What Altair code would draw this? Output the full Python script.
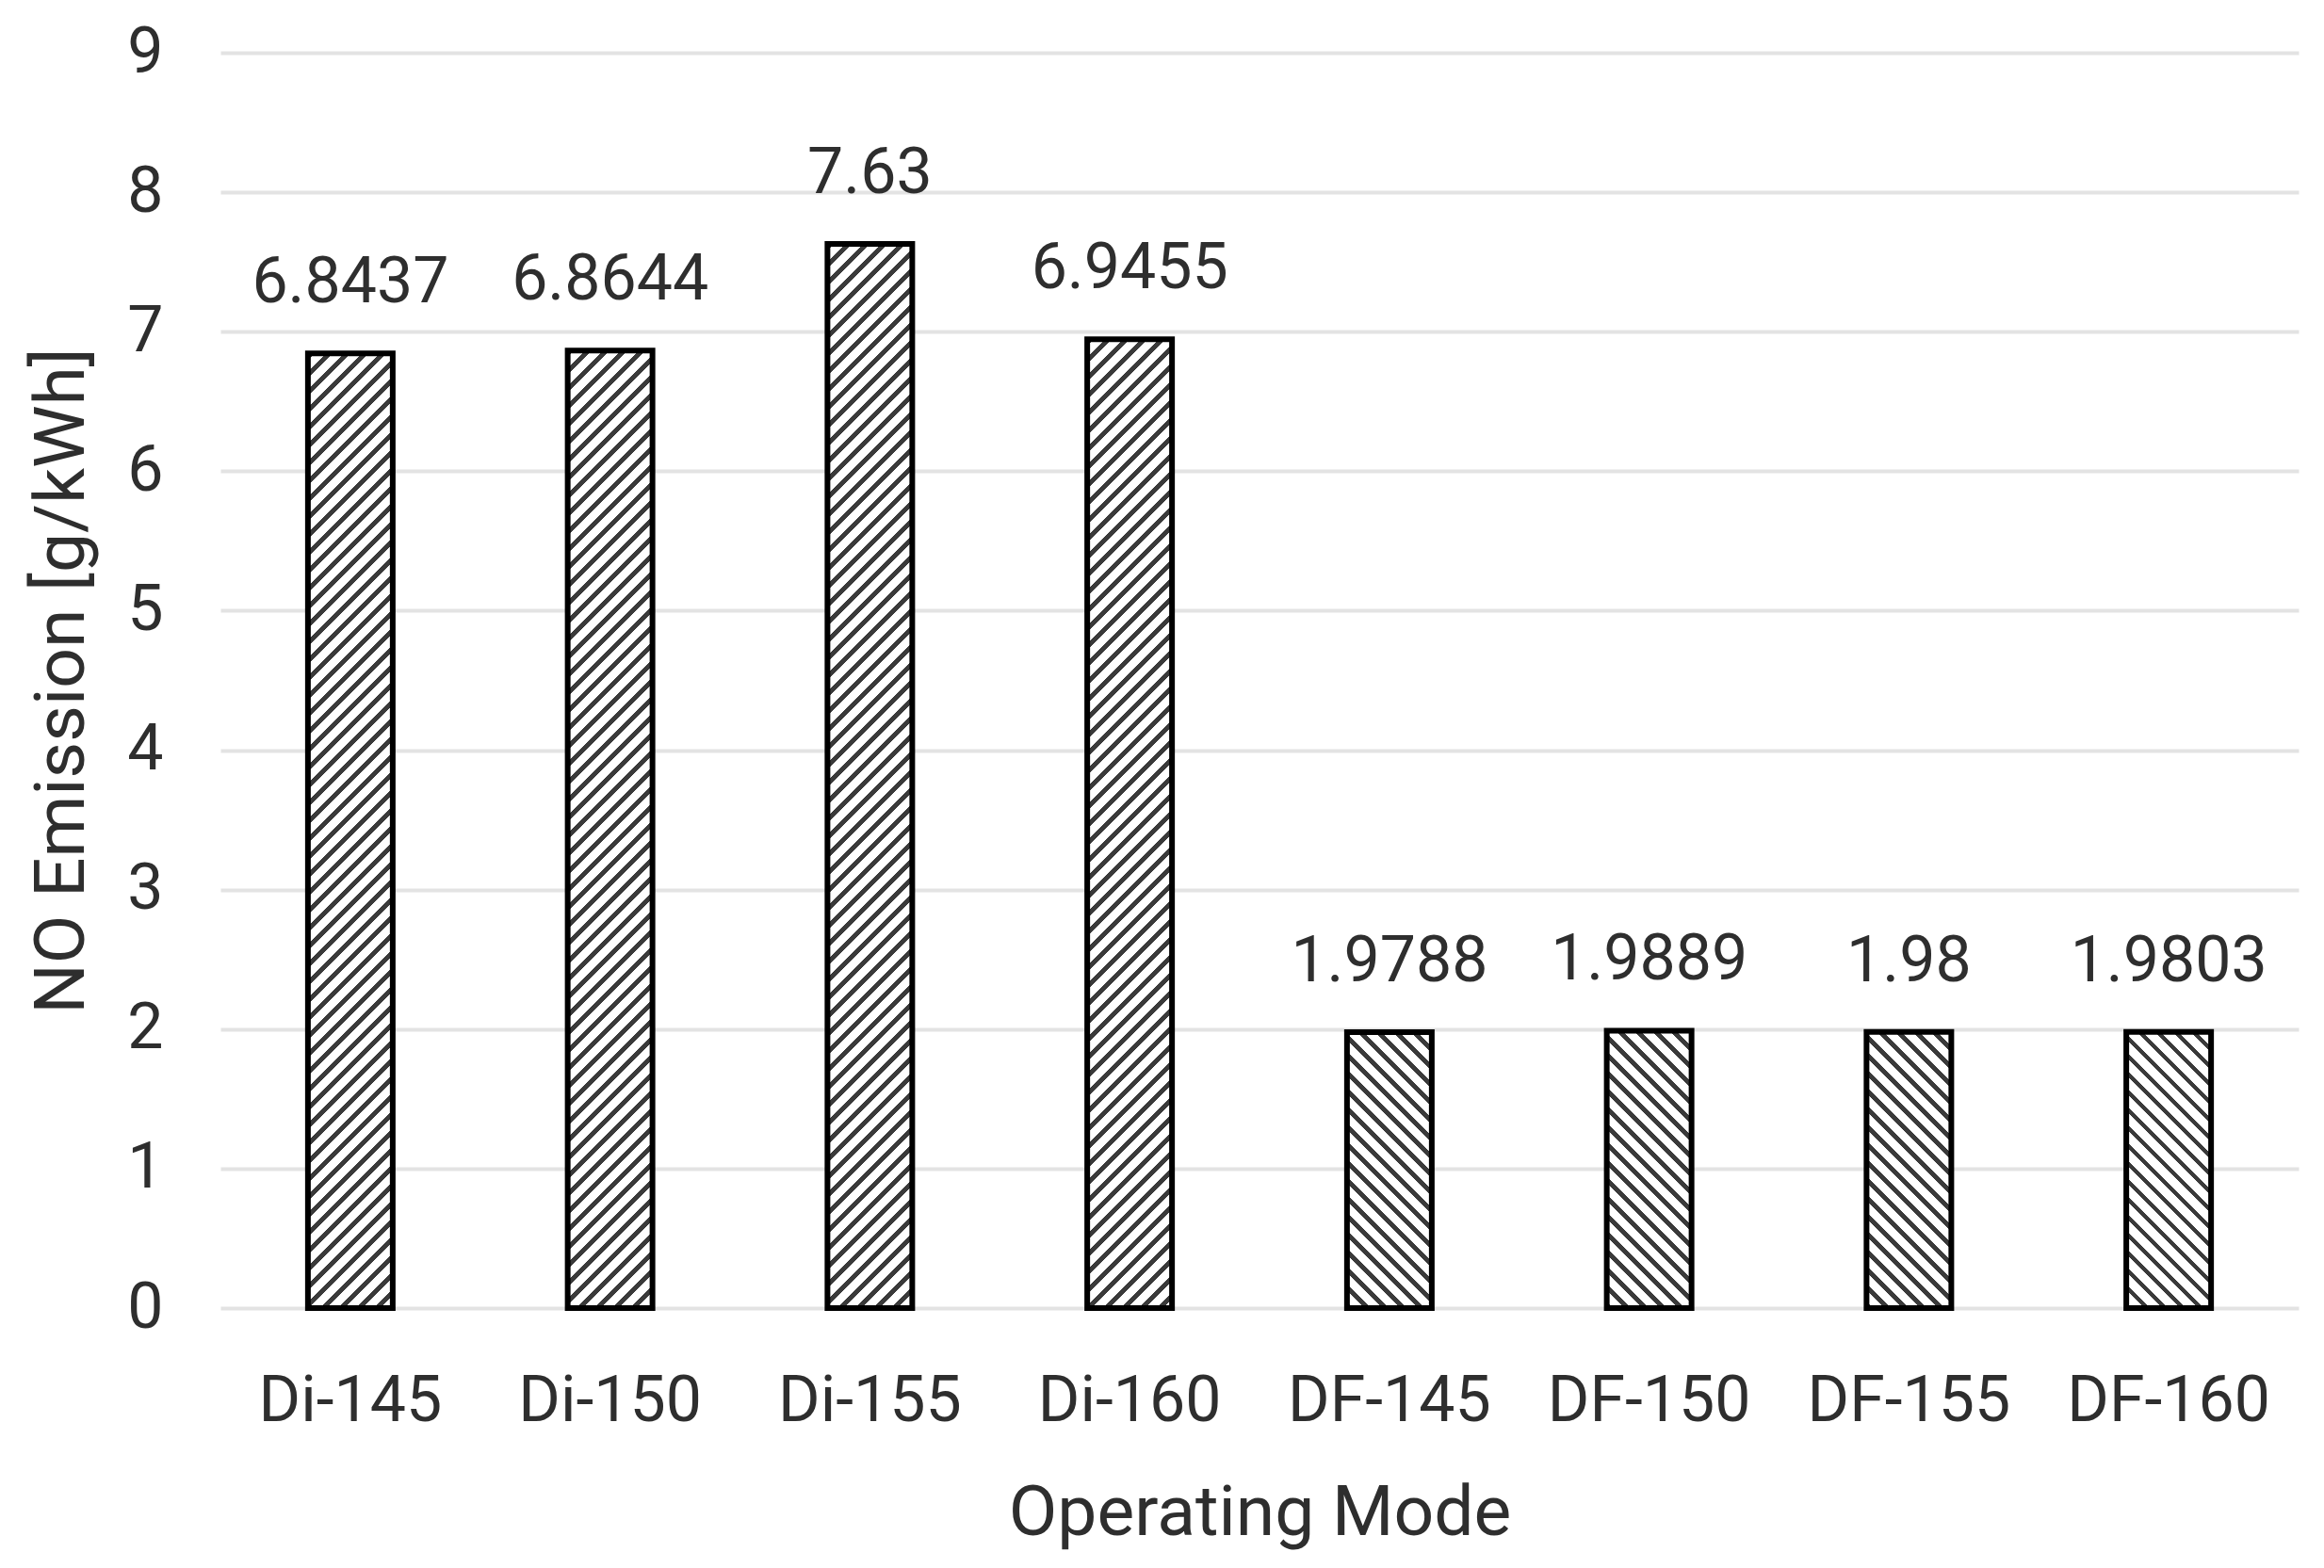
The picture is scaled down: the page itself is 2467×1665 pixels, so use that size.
import math
import altair as alt
import pandas as pd

# ---- data ----
modes = ["Di-145", "Di-150", "Di-155", "Di-160", "DF-145", "DF-150", "DF-155", "DF-160"]
values = [6.8437, 6.8644, 7.63, 6.9455, 1.9788, 1.9889, 1.98, 1.9803]
labels = ["6.8437", "6.8644", "7.63", "6.9455", "1.9788", "1.9889", "1.98", "1.9803"]
hatch = ["/", "/", "/", "/", "\\", "\\", "\\", "\\"]
y_ticks = [0, 1, 2, 3, 4, 5, 6, 7, 8, 9]

df = pd.DataFrame({"mode": modes, "value": values, "label": labels})

# ---- layout / style ----
W, H = 2206, 1333
YMAX = 9
BAR = 90
PERIOD = 19.0
DUTY = 0.36
INK = "#3a3a3a"
TXT = "#2e2e2e"
FONT = "Roboto"


def stripes(v, direction):
    """Linear gradient with hard stops -> 45 degree hatch inside a bar."""
    w = float(BAR)
    h = v * H / YMAX
    k = (w + h) / (w * w + h * h)
    a, b = k * w, k * h
    total = w + h
    n = int(math.ceil(total / PERIOD))
    stops = []
    for i in range(n):
        s = min(i * PERIOD / total, 1.0)
        e = min((i * PERIOD + PERIOD * DUTY) / total, 1.0)
        nxt = min((i + 1) * PERIOD / total, 1.0)
        stops += [
            {"offset": round(s, 6), "color": INK},
            {"offset": round(e, 6), "color": INK},
            {"offset": round(e, 6), "color": "white"},
            {"offset": round(nxt, 6), "color": "white"},
        ]
    if direction == "/":
        return {"gradient": "linear", "x1": 0, "y1": 0, "x2": a, "y2": b, "stops": stops}
    return {"gradient": "linear", "x1": 0, "y1": 1, "x2": a, "y2": 1 - b, "stops": stops}


x_enc = alt.X(
    "mode:N",
    scale=alt.Scale(domain=modes, paddingInner=0, paddingOuter=0),
    axis=alt.Axis(
        title="Operating Mode",
        labelAngle=0,
        labelLimit=500,
        grid=False,
        labelPadding=119,
        labelBaseline="alphabetic",
        titleX=W / 2,
        titleY=240,
        titleAlign="center",
        titleBaseline="alphabetic",
    ),
)
y_enc = alt.Y(
    "value:Q",
    scale=alt.Scale(domain=[0, YMAX], nice=False),
    axis=alt.Axis(
        title="NO Emission [g/kWh]",
        values=y_ticks,
        labelPadding=61,
        titleX=-146,
        titleY=H / 2,
        titleAngle=270,
        titleAlign="center",
        titleBaseline="alphabetic",
    ),
)

base = alt.Chart(df)
layers = []
for m, v, d in zip(modes, values, hatch):
    layers.append(
        base.transform_filter(alt.datum.mode == m)
        .mark_bar(fill=stripes(v, d), stroke="black", strokeWidth=6, size=BAR)
        .encode(x=x_enc, y=y_enc)
    )

text = base.mark_text(
    dy=-54, baseline="alphabetic", fontSize=68, font=FONT, color=TXT
).encode(x=x_enc, y=y_enc, text="label:N")

chart = (
    alt.layer(*layers, text)
    .properties(
        width=W,
        height=H,
        autosize=alt.AutoSizeParams(type="none"),
        padding={"left": 226, "top": 48, "right": 19, "bottom": 260},
        background="white",
    )
    .configure_axis(
        labelFont=FONT,
        labelFontSize=68,
        labelColor=TXT,
        titleFont=FONT,
        titleFontSize=75,
        titleFontWeight="normal",
        titleColor=TXT,
        domain=False,
        ticks=False,
        gridColor="#e3e3e3",
        gridWidth=4,
    )
    .configure_view(stroke=None)
)

chart.save("out.html", embed_options={"renderer": "svg", "actions": False})
